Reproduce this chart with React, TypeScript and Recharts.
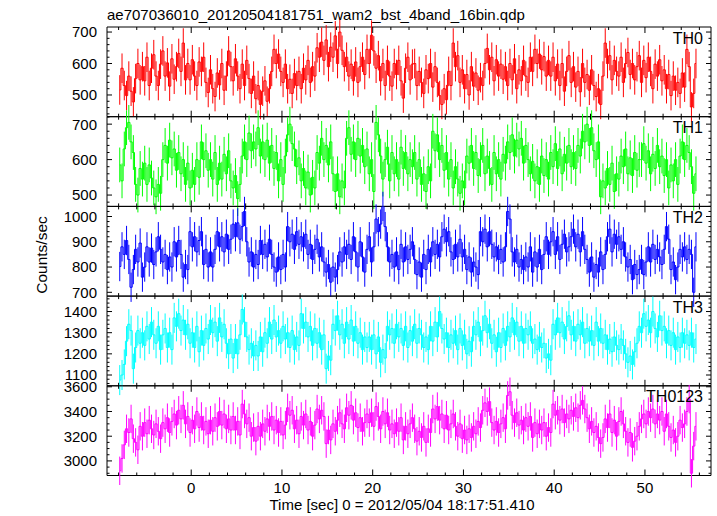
import React from "react";
import { ComposedChart, Line, XAxis, YAxis, ErrorBar, ReferenceLine, ReferenceArea } from "recharts";

const TITLE = "ae707036010_20120504181751_wam2_bst_4band_16bin.qdp";
const X_LABEL = "Time [sec] 0 = 2012/05/04 18:17:51.410";
const Y_LABEL = "Counts/sec";

// 0.25 s bins, centre of the first one
const T0 = -7.875;
const BIN = 0.25;

const TH0 = [
  516, 585, 530, 498, 560, 512, 478, 552, 600, 548,
  590, 545, 620, 530, 585, 628, 560, 530, 598, 640,
  560, 602, 528, 615, 550, 590, 632, 575, 665, 548,
  600, 548, 612, 560, 530, 605, 575, 620, 540, 508,
  580, 520, 495, 570, 532, 600, 515, 560, 640, 590,
  545, 615, 560, 520, 598, 530, 610, 552, 505, 560,
  488, 530, 470, 512, 545, 480, 520, 575, 645, 600,
  630, 575, 540, 598, 520, 550, 505, 568, 530, 575,
  520, 585, 548, 610, 540, 590, 560, 650, 620, 668,
  610, 675, 590, 652, 620, 688, 600, 700, 642, 590,
  620, 560, 598, 545, 605, 540, 590, 620, 565, 645,
  600, 690, 640, 585, 625, 545, 600, 530, 610, 560,
  528, 600, 565, 610, 545, 490, 585, 620, 548, 598,
  600, 530, 575, 540, 505, 580, 552, 600, 525, 590,
  540, 498, 470, 520, 485, 575, 530, 665, 590, 625,
  540, 580, 520, 565, 500, 590, 528, 570, 515, 555,
  530, 600, 648, 580, 620, 545, 612, 560, 598, 550,
  590, 530, 600, 548, 615, 520, 580, 545, 610, 560,
  540, 620, 575, 645, 600, 630, 580, 622, 560, 610,
  560, 620, 545, 598, 530, 600, 512, 575, 625, 540,
  590, 525, 575, 510, 600, 540, 565, 515, 580, 530,
  495, 520, 470, 560, 665, 600, 625, 548, 610, 575,
  560, 620, 540, 600, 635, 565, 600, 548, 590, 625,
  540, 610, 555, 620, 575, 520, 598, 560, 612, 545,
  580, 520, 565, 498, 560, 515, 540, 505, 570, 525,
  645, 590, 462, 505, 600,
];

const TH1 = [
  585, 540, 630, 690, 705, 650, 620, 530, 500, 575,
  545, 590, 530, 585, 548, 520, 495, 530, 505, 600,
  640, 590, 655, 605, 630, 570, 620, 560, 600, 530,
  590, 520, 570, 530, 600, 550, 650, 600, 625, 570,
  600, 545, 620, 530, 590, 545, 615, 560, 625, 540,
  520, 555, 490, 530, 610, 650, 600, 675, 625, 650,
  630, 690, 610, 650, 600, 655, 590, 640, 575, 620,
  540, 600, 530, 610, 670, 700, 645, 630, 580, 605,
  540, 575, 520, 565, 500, 550, 520, 620, 590, 660,
  600, 640, 585, 650, 560, 510, 560, 495, 540, 520,
  660, 690, 615, 650, 600, 660, 610, 640, 580, 630,
  560, 600, 510, 705, 670, 610, 545, 600, 635, 540,
  620, 560, 600, 545, 635, 575, 620, 560, 600, 580,
  620, 545, 600, 530, 560, 510, 580, 540, 680, 625,
  670, 600, 640, 570, 620, 545, 600, 520, 580, 545,
  505, 540, 520, 610, 590, 640, 575, 620, 555, 600,
  640, 560, 610, 575, 530, 620, 560, 600, 545, 615,
  590, 650, 620, 670, 610, 655, 630, 660, 590, 640,
  600, 560, 595, 540, 580, 530, 610, 555, 600, 545,
  620, 580, 645, 575, 630, 560, 615, 590, 640, 580,
  620, 575, 640, 610, 680, 650, 700, 640, 690, 625,
  600, 650, 495, 540, 520, 575, 530, 590, 510, 560,
  545, 610, 580, 630, 560, 605, 555, 620, 570, 600,
  600, 645, 590, 625, 560, 615, 575, 640, 580, 610,
  555, 600, 520, 585, 540, 600, 530, 610, 650, 600,
  640, 620, 580, 505, 560,
];

const TH2 = [
  802, 880, 850, 905, 830, 720, 790, 870, 820, 895,
  760, 800, 880, 820, 875, 810, 860, 920, 870, 820,
  850, 790, 840, 800, 900, 840, 905, 850, 760, 810,
  790, 940, 880, 920, 860, 905, 940, 810, 870, 800,
  860, 800, 870, 940, 880, 920, 860, 930, 870, 910,
  970, 920, 975, 910, 960, 1020, 900, 820, 860, 800,
  850, 810, 905, 850, 890, 840, 910, 850, 800, 780,
  840, 790, 850, 800, 960, 900, 930, 870, 940, 890,
  920, 880, 930, 850, 890, 830, 870, 910, 840, 880,
  820, 780, 810, 740, 800, 760, 790, 860, 820, 880,
  850, 890, 830, 920, 860, 800, 900, 840, 780, 870,
  920, 820, 880, 990, 940, 970, 1040, 960, 880, 820,
  850, 800, 860, 790, 890, 820, 880, 830, 870, 900,
  830, 770, 820, 760, 850, 790, 870, 820, 900, 850,
  890, 840, 920, 950, 900, 940, 860, 830, 890, 840,
  910, 840, 870, 790, 840, 780, 820, 800, 770, 940,
  900, 950, 880, 940, 890, 840, 880, 830, 870, 820,
  880, 1020, 990, 860, 820, 870, 800, 830, 790, 840,
  800, 880, 780, 860, 800, 870, 790, 850, 920, 850,
  900, 940, 850, 920, 830, 890, 930, 860, 880, 920,
  950, 880, 930, 860, 940, 870, 830, 780, 840, 760,
  810, 780, 860, 790, 850, 920, 950, 860, 930, 890,
  920, 870, 900, 840, 800, 830, 750, 810, 770, 790,
  830, 770, 820, 880, 820, 890, 830, 870, 840, 810,
  870, 960, 910, 790, 820, 750, 800, 870, 840, 880,
  830, 870, 850, 700, 880,
];

const TH3 = [
  1076, 1100, 1150, 1260, 1340, 1310, 1130, 1230, 1310, 1250,
  1300, 1240, 1330, 1270, 1350, 1290, 1250, 1330, 1220, 1290,
  1320, 1230, 1300, 1220, 1370, 1330, 1390, 1310, 1360, 1290,
  1340, 1250, 1300, 1230, 1330, 1210, 1310, 1240, 1320, 1270,
  1360, 1300, 1350, 1260, 1370, 1280, 1340, 1250, 1200, 1270,
  1180, 1270, 1200, 1290, 1410, 1350, 1280, 1220, 1250, 1190,
  1240, 1190, 1280, 1210, 1300, 1250, 1350, 1270, 1360, 1280,
  1310, 1250, 1330, 1270, 1300, 1230, 1310, 1220, 1280, 1240,
  1390, 1320, 1350, 1280, 1330, 1240, 1320, 1250, 1300, 1220,
  1290, 1130, 1190, 1170, 1340, 1310, 1380, 1290, 1340, 1250,
  1350, 1270, 1360, 1260, 1330, 1250, 1300, 1220, 1280, 1230,
  1280, 1220, 1290, 1200, 1280, 1160, 1220, 1180, 1330, 1290,
  1320, 1250, 1340, 1280, 1320, 1240, 1330, 1230, 1310, 1260,
  1340, 1250, 1320, 1290, 1230, 1280, 1220, 1330, 1260, 1350,
  1280, 1400, 1320, 1270, 1300, 1230, 1290, 1250, 1310, 1220,
  1320, 1240, 1290, 1200, 1260, 1210, 1330, 1290, 1350, 1260,
  1310, 1380, 1300, 1340, 1250, 1290, 1210, 1300, 1230, 1320,
  1240, 1330, 1280, 1370, 1290, 1350, 1260, 1330, 1250, 1320,
  1290, 1330, 1250, 1270, 1220, 1280, 1230, 1250, 1180, 1200,
  1170, 1340, 1290, 1370, 1300, 1350, 1270, 1330, 1380, 1290,
  1330, 1260, 1340, 1290, 1350, 1250, 1320, 1260, 1310, 1240,
  1350, 1260, 1320, 1250, 1290, 1220, 1270, 1210, 1280, 1240,
  1220, 1270, 1240, 1200, 1160, 1190, 1150, 1210, 1250, 1330,
  1300, 1390, 1330, 1360, 1300, 1400, 1320, 1280, 1380, 1310,
  1330, 1250, 1310, 1240, 1300, 1220, 1280, 1230, 1300, 1250,
  1290, 1240, 1300, 1230, 1270,
];

const TH0123 = [
  2920, 3020, 3130, 3260, 3230, 3340, 3180, 3150, 3090, 3280,
  3200, 3310, 3220, 3330, 3260, 3210, 3300, 3240, 3180, 3310,
  3260, 3350, 3230, 3320, 3380, 3290, 3410, 3340, 3450, 3300,
  3360, 3230, 3330, 3260, 3400, 3270, 3360, 3250, 3320, 3220,
  3330, 3240, 3350, 3280, 3400, 3290, 3380, 3260, 3340, 3250,
  3360, 3250, 3320, 3210, 3460, 3380, 3300, 3350, 3200, 3270,
  3160, 3280, 3200, 3300, 3240, 3340, 3280, 3360, 3250, 3330,
  3230, 3320, 3210, 3290, 3430, 3370, 3410, 3260, 3330, 3220,
  3360, 3290, 3380, 3250, 3320, 3200, 3290, 3420, 3340, 3410,
  3360, 3140, 3250, 3170, 3300, 3240, 3330, 3390, 3300, 3260,
  3430, 3370, 3450, 3330, 3390, 3270, 3350, 3240, 3310, 3380,
  3310, 3390, 3280, 3440, 3360, 3260, 3400, 3300, 3390, 3250,
  3300, 3220, 3310, 3240, 3350, 3170, 3280, 3220, 3300, 3350,
  3260, 3160, 3240, 3190, 3280, 3150, 3260, 3230, 3420, 3340,
  3440, 3330, 3380, 3260, 3370, 3250, 3300, 3380, 3280, 3200,
  3300, 3180, 3250, 3170, 3260, 3190, 3280, 3220, 3320, 3270,
  3410, 3470, 3400, 3480, 3310, 3250, 3320, 3230, 3300, 3350,
  3260, 3530, 3560, 3370, 3310, 3390, 3290, 3330, 3250, 3350,
  3280, 3360, 3190, 3310, 3220, 3300, 3250, 3310, 3200, 3270,
  3230, 3460, 3370, 3410, 3330, 3420, 3310, 3380, 3340, 3410,
  3360, 3430, 3350, 3450, 3490, 3420, 3350, 3260, 3320, 3230,
  3280, 3190, 3140, 3190, 3340, 3270, 3380, 3230, 3330, 3200,
  3320, 3400, 3300, 3240, 3150, 3230, 3110, 3160, 3200, 3280,
  3340, 3380, 3300, 3400, 3350, 3420, 3300, 3380, 3330, 3400,
  3240, 3380, 3280, 3190, 3250, 3150, 3200, 3330, 3270, 3300,
  3400, 3500, 2900, 3120, 3280,
];

const SERIES = [TH0, TH1, TH2, TH3, TH0123];
const BANDS = ["TH0", "TH1", "TH2", "TH3", "TH0123"];
const COLORS = ["#ff0000", "#00ff00", "#0000ff", "#00ffff", "#ff00ff"];
// typical 1-sigma error per band (counts/sec)
const ERRS = [47, 49, 58, 71, 115];

const Y_DOMAINS = [
  [431, 716],
  [468, 721],
  [685, 1040],
  [1049, 1473],
  [2882, 3608],
];
const Y_MAJOR = [
  [500, 600, 700],
  [500, 600, 700],
  [700, 800, 900, 1000],
  [1100, 1200, 1300, 1400],
  [3000, 3200, 3400, 3600],
];
const Y_MINOR_STEP = [20, 20, 20, 20, 50];

const X_DOMAIN = [-9.28, 57.28];
const X_MAJOR = [0, 10, 20, 30, 40, 50];
const X_MINOR_STEP = 2;

const W = 717;
const H = 516;
const LEFT = 107;
const RIGHT = 711;
const TOP = 27;
const PANEL_H = 89.7;
const FONT = '"Liberation Sans", Arial, Helvetica, sans-serif';

function stepsIn(lo: number, hi: number, step: number) {
  const out: number[] = [];
  for (let v = Math.ceil(lo / step) * step; v <= hi; v += step) out.push(v);
  return out;
}

const X_TICKS = stepsIn(X_DOMAIN[0], X_DOMAIN[1], X_MINOR_STEP);

function XLabel(props: any) {
  const { x, y, payload } = props;
  if (!X_MAJOR.includes(payload.value)) return <g />;
  return (
    <text x={x} y={y + 17.5} textAnchor="middle" fontSize={15} fontFamily={FONT} fill="#000">
      {payload.value}
    </text>
  );
}

function YLabel(props: any) {
  const { x, y, payload, majors } = props;
  if (!majors.includes(payload.value)) return <g />;
  return (
    <text x={x - 10} y={y + 5.4} textAnchor="end" fontSize={15} fontFamily={FONT} fill="#000">
      {payload.value}
    </text>
  );
}

function Panel({ k }: { k: number }) {
  const data = SERIES[k].map((v, i) => ({ t: T0 + i * BIN, v, e: ERRS[k] }));
  const top = TOP + k * PANEL_H;
  const last = k === SERIES.length - 1;
  const xAxisH = last ? 30 : 0;
  const bottom = H - top - PANEL_H - xAxisH;
  const [lo, hi] = Y_DOMAINS[k];
  const [xlo, xhi] = X_DOMAIN;
  const yTicks = stepsIn(lo, hi, Y_MINOR_STEP[k]);
  const color = COLORS[k];
  // tick lengths, pixels converted to data units
  const dyPx = (hi - lo) / PANEL_H;
  const dxPx = (xhi - xlo) / (RIGHT - LEFT);
  const ref = { xAxisId: "b", yAxisId: "l", stroke: "#000", strokeWidth: 1, ifOverflow: "visible" as const };

  return (
    <div style={{ position: "absolute", left: 0, top: 0 }}>
      <ComposedChart width={W} height={H} data={data} margin={{ top, bottom, left: 0, right: W - RIGHT }}>
        <XAxis
          xAxisId="b"
          dataKey="t"
          type="number"
          domain={X_DOMAIN}
          allowDataOverflow
          ticks={X_TICKS}
          interval={0}
          hide={!last}
          height={xAxisH}
          tickSize={0}
          tickMargin={0}
          tickLine={false}
          axisLine={false}
          tick={(p: any) => <XLabel {...p} />}
        />
        <YAxis
          yAxisId="l"
          type="number"
          domain={[lo, hi]}
          allowDataOverflow
          ticks={yTicks}
          interval={0}
          width={LEFT}
          tickSize={0}
          tickMargin={0}
          tickLine={false}
          axisLine={false}
          tick={(p: any) => <YLabel {...p} majors={Y_MAJOR[k]} />}
        />
        <ReferenceArea {...ref} x1={xlo} x2={xhi} y1={lo} y2={hi} fill="none" fillOpacity={0} />
        {X_TICKS.map((t) => {
          const len = (X_MAJOR.includes(t) ? 6 : 3) * dyPx;
          return [
            <ReferenceLine key={`xb${t}`} {...ref} segment={[{ x: t, y: lo }, { x: t, y: lo + len }]} />,
            <ReferenceLine key={`xt${t}`} {...ref} segment={[{ x: t, y: hi }, { x: t, y: hi - len }]} />,
          ];
        })}
        {yTicks.map((v) => {
          const len = (Y_MAJOR[k].includes(v) ? 5 : 2.5) * dxPx;
          return [
            <ReferenceLine key={`yl${v}`} {...ref} segment={[{ x: xlo, y: v }, { x: xlo + len, y: v }]} />,
            <ReferenceLine key={`yr${v}`} {...ref} segment={[{ x: xhi, y: v }, { x: xhi - len, y: v }]} />,
          ];
        })}
        <Line
          xAxisId="b"
          yAxisId="l"
          type="step"
          dataKey="v"
          stroke={color}
          strokeWidth={1}
          dot={false}
          isAnimationActive={false}
        >
          <ErrorBar dataKey="e" width={0} stroke={color} strokeWidth={1} direction="y" isAnimationActive={false} />
        </Line>
      </ComposedChart>
    </div>
  );
}

export default function App() {
  return (
    <div style={{ position: "absolute", left: 0, top: 0, width: W, height: H, background: "#fff" }}>
      {SERIES.map((_, k) => (
        <Panel key={BANDS[k]} k={k} />
      ))}
      <svg width={W} height={H} style={{ position: "absolute", left: 0, top: 0 }}>
        <text x={LEFT} y={20} fontSize={15} fontFamily={FONT} fill="#000">
          {TITLE}
        </text>
        {BANDS.map((b, k) => (
          <text
            key={b}
            x={RIGHT - 8}
            y={TOP + k * PANEL_H + 16.5}
            textAnchor="end"
            fontSize={16}
            fontFamily={FONT}
            fill="#000"
          >
            {b}
          </text>
        ))}
        <text x={(LEFT + RIGHT) / 2 - 7} y={510} textAnchor="middle" fontSize={15} fontFamily={FONT} fill="#000">
          {X_LABEL}
        </text>
        <text
          x={47}
          y={255}
          textAnchor="middle"
          fontSize={15.5}
          fontFamily={FONT}
          fill="#000"
          transform="rotate(-90 47 255)"
        >
          {Y_LABEL}
        </text>
      </svg>
    </div>
  );
}
